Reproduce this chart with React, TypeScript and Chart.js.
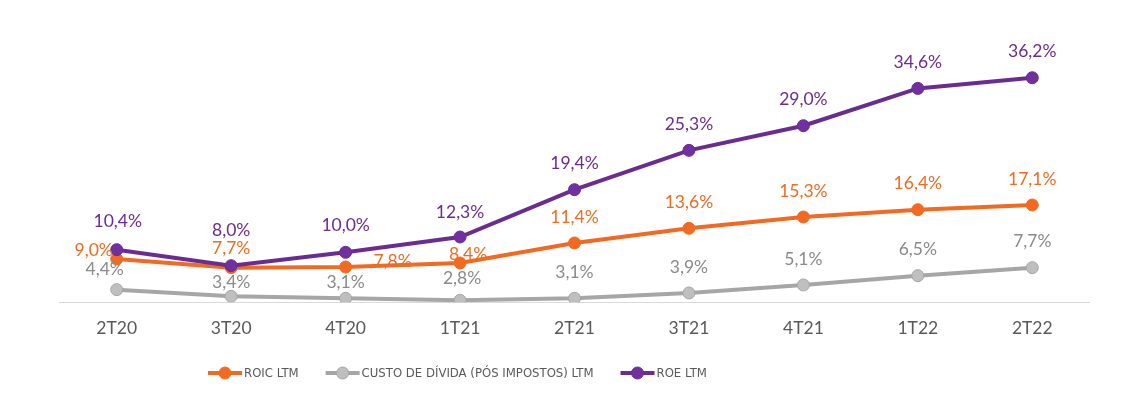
import React, { useEffect, useRef } from "react";
import { Chart, registerables } from "chart.js";

Chart.register(...registerables);

const categories = ["2T20", "3T20", "4T20", "1T21", "2T21", "3T21", "4T21", "1T22", "2T22"];
const roicValues = [9.0, 7.7, 7.8, 8.4, 11.4, 13.6, 15.3, 16.4, 17.1];
const custoValues = [4.4, 3.4, 3.1, 2.8, 3.1, 3.9, 5.1, 6.5, 7.7];
const roeValues = [10.4, 8.0, 10.0, 12.3, 19.4, 25.3, 29.0, 34.6, 36.2];
const seriesLabels = ["ROIC LTM", "CUSTO DE DÍVIDA (PÓS IMPOSTOS) LTM", "ROE LTM"];

const FONT = "Lato, 'Noto Sans', sans-serif";
const LEGEND_FONT = "'DejaVu Sans Condensed', Lato, sans-serif";
const ORANGE = "#F26A21";
const GRAY_LINE = "#A6A6A6";
const GRAY_POINT = "#BFBFBF";
const PURPLE_LINE = "#6A2C91";
const PURPLE_POINT = "#7030A0";

const labelColors = [ORANGE, "#8A8A8A", "#6A2C91"];

// label offsets (dx, dy) relative to each point; default is straight above
const DEFAULT_OFFSET: [number, number] = [0, -26];
const labelOffsets: Record<number, Record<number, [number, number]>> = {
  0: { 0: [-23, -9], 1: [0, -19], 2: [47, -6], 3: [8, -9] },
  1: { 0: [-12, -20], 1: [0, -14], 2: [0, -16], 3: [2, -22] },
  2: { 0: [1, -28], 1: [0, -35], 2: [0, -27], 3: [0, -25] },
};

const fmt = (v: number) => v.toFixed(1).replace(".", ",") + "%";

const dataLabelPlugin = {
  id: "dataLabels",
  afterDatasetsDraw(chart: any) {
    const ctx = chart.ctx;
    ctx.save();
    ctx.font = `17.5px ${FONT}`;
    ctx.textAlign = "center";
    ctx.textBaseline = "middle";
    chart.data.datasets.forEach((ds: any, di: number) => {
      const meta = chart.getDatasetMeta(di);
      meta.data.forEach((pt: any, i: number) => {
        const off = (labelOffsets[di] && labelOffsets[di][i]) || DEFAULT_OFFSET;
        ctx.fillStyle = labelColors[di];
        ctx.fillText(fmt(ds.data[i]), pt.x + off[0], pt.y + off[1]);
      });
    });
    ctx.restore();
  },
};

const LEGEND_X = 208;
const LEGEND_Y = 373;

const legendPlugin = {
  id: "customLegend",
  afterDraw(chart: any) {
    const ctx = chart.ctx;
    ctx.save();
    ctx.font = `13px ${LEGEND_FONT}`;
    ctx.textBaseline = "middle";
    ctx.textAlign = "left";
    let x = LEGEND_X;
    const y = LEGEND_Y;
    chart.data.datasets.forEach((ds: any) => {
      ctx.strokeStyle = ds.borderColor;
      ctx.lineWidth = 4;
      ctx.beginPath();
      ctx.moveTo(x, y);
      ctx.lineTo(x + 34, y);
      ctx.stroke();
      ctx.beginPath();
      ctx.arc(x + 17, y, 6, 0, Math.PI * 2);
      ctx.fillStyle = ds.pointBackgroundColor;
      ctx.fill();
      ctx.lineWidth = 1;
      ctx.strokeStyle = ds.pointBorderColor;
      ctx.stroke();
      ctx.fillStyle = "#595959";
      ctx.fillText(ds.label, x + 36, y + 1);
      x += 36 + ctx.measureText(ds.label).width + 27;
    });
    ctx.restore();
  },
};

export default function App() {
  const ref = useRef<HTMLCanvasElement>(null);
  useEffect(() => {
    document.body.style.margin = "0";
    const chart = new Chart(ref.current!, {
      type: "line",
      data: {
        labels: categories,
        datasets: [
          {
            label: seriesLabels[0],
            data: roicValues,
            borderColor: ORANGE,
            backgroundColor: ORANGE,
            pointBackgroundColor: ORANGE,
            pointBorderColor: ORANGE,
            order: 1,
          },
          {
            label: seriesLabels[1],
            data: custoValues,
            borderColor: GRAY_LINE,
            backgroundColor: GRAY_POINT,
            pointBackgroundColor: GRAY_POINT,
            pointBorderColor: GRAY_LINE,
            order: 2,
          },
          {
            label: seriesLabels[2],
            data: roeValues,
            borderColor: PURPLE_LINE,
            backgroundColor: PURPLE_POINT,
            pointBackgroundColor: PURPLE_POINT,
            pointBorderColor: PURPLE_LINE,
            order: 0,
          },
        ],
      },
      options: {
        responsive: false,
        animation: false,
        layout: { padding: { left: 59.5, right: 38.5, top: 52.4, bottom: 41.7 } },
        elements: {
          line: { borderWidth: 4, tension: 0 },
          point: { radius: 6, borderWidth: 1, hoverRadius: 6 },
        },
        scales: {
          x: {
            offset: true,
            grid: { display: false, drawTicks: false },
            border: { display: true, color: "#D9D9D9", width: 1 },
            ticks: { padding: 15.5, color: "#595959", font: { family: FONT, size: 17.5 } },
          },
          y: { display: false, min: 2.5, max: 40 },
        },
        plugins: {
          legend: { display: false },
          tooltip: { enabled: false },
        },
      },
      plugins: [dataLabelPlugin, legendPlugin],
    });
    return () => chart.destroy();
  }, []);
  return (
    <div style={{ width: 1128, height: 396, background: "#fff" }}>
      <canvas ref={ref} width={1128} height={396} />
    </div>
  );
}
